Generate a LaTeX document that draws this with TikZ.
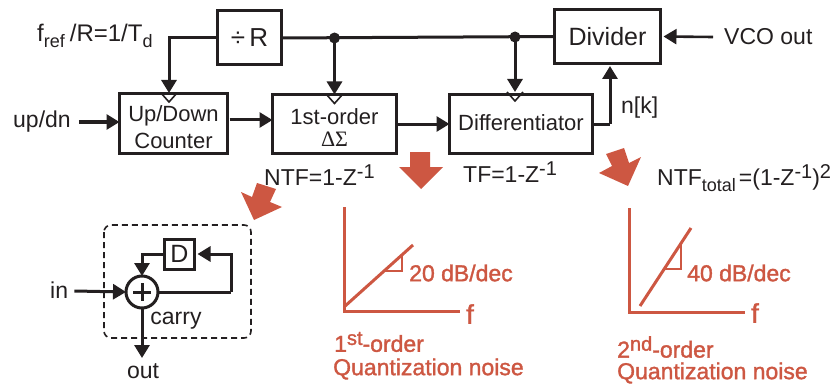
\documentclass[tikz,border=0pt]{standalone}
\usepackage{fontspec}
\usetikzlibrary{arrows.meta,positioning,calc}
\setmainfont{Liberation Sans}
\newfontfamily\deltafont{Liberation Serif}
\newfontfamily\noisefont[FakeBold=1.5]{Liberation Sans}
\definecolor{blockblack}{RGB}{35, 31, 32}
\definecolor{noisered}{RGB}{205, 87, 66}
\newcommand{\lowtxt}[1]{\raisebox{-0.28em}{\fontsize{18}{18}\selectfont #1}}
\newcommand{\hightxt}[1]{\raisebox{0.3em}{\fontsize{20}{20}\selectfont #1}}
\newcommand{\droptxt}[2]{\raisebox{-#1}[0pt][0pt]{#2}}
\tikzset{
 blockbox/.style={
 rectangle,
 draw=blockblack,
 line width=3pt,
 outer sep=0pt,
 align=center,
 text=blockblack,
 font=\fontsize{22}{25}\selectfont
 },
 labeltext/.style={
 inner sep=0pt,
 text=blockblack,
 font=\fontsize{23}{25}\selectfont
 },
 noisetext/.style={
 inner sep=0pt,
 text=noisered,
 font=\fontsize{23}{25}\selectfont\noisefont
 },
 sigline/.style={-{Triangle[length=13pt,width=15pt]}, line width=3pt, draw=blockblack},
 plainline/.style={line width=3pt, draw=blockblack},
 clockmark/.style={line width=1.6pt, draw=blockblack},
 noiseline/.style={line width=3pt, draw=noisered},
 slopeline/.style={line width=2.2pt, draw=noisered},
 bigarrow/.style={fill=noisered, draw=none}
}
\begin{document}
\begin{tikzpicture}[x=1pt,y=-1pt]
	\useasboundingbox (0,0) rectangle (837,385);

	% top row
	\node[blockbox, font=\fontsize{26}{28}\selectfont, minimum width=64pt, minimum height=54pt] (divr) at (249.5,38) {÷\,R};
	\node[blockbox, font=\fontsize{25}{28}\selectfont, minimum width=106pt, minimum height=54pt] (divider) at (607.5,36.5) {Divider};

	% main row
	\node[blockbox, minimum width=108pt, minimum height=59pt, inner sep=0pt] (counter) at (173.5,123.5) {\droptxt{11pt}{Up/Down}\\[2pt]\droptxt{11pt}{Counter}};
	\node[blockbox, minimum width=124pt, minimum height=59pt, inner sep=0pt, right=45pt of counter, yshift=-0.5pt] (sigma) {\droptxt{12pt}{1st-order}\\[-3pt]\droptxt{12pt}{\deltafont ΔΣ}};
	\node[blockbox, minimum width=143pt, minimum height=59pt, inner sep=0pt, right=53pt of sigma] (diff) {\raisebox{2.5pt}{Differentiator}};

	% junctions
	\coordinate (jleft) at (sigma.north |- divr.east);
	\coordinate (jright) at (515,37);
	\fill[blockblack] (jleft) circle (5.5pt);
	\fill[blockblack] (jright) circle (5.5pt);

	% clock lines
	\coordinate (ckcount) at (169,93);
	\coordinate (ckdiff) at (515,92);
	\draw[plainline] (divr.east) -- (divider.west);
	\draw[sigline] (divr.west) -| (ckcount);
	\draw[sigline] (jleft) -- (sigma.north);
	\draw[sigline] (jright) -- (ckdiff);
	\draw[clockmark] ($(ckcount)+(-8,0)$) -- +(8,9) -- +(16,0);
	\draw[clockmark] ($(sigma.north)+(-8,0)$) -- +(8,9) -- +(16,0);
	\draw[clockmark] ($(ckdiff)+(-8,0)$) -- +(8,9) -- +(16,0);

	% signal path
	\node[labeltext, anchor=west] (updn) at (13,122) {up/dn};
	\node[labeltext, anchor=west] (vco) at (724,37) {VCO out};
	\node[labeltext, anchor=west] (nk) at (621,108) {n[k]};
	\coordinate (nkup) at (610,66);
	\draw[sigline] (updn.east) ++(8,0) -- (counter.west |- updn.east);
	\draw[sigline] ([xshift=2pt]counter.east |- 0,120) -- (sigma.west |- 0,120);
	\draw[sigline] (sigma.east) -- (diff.west);
	\draw[plainline] (diff.east) -- (nkup |- diff.east);
	\draw[sigline] (nkup |- diff.east) -- (nkup);
	\draw[{Triangle[length=13pt,width=15pt]}-, line width=2.6pt, draw=blockblack] ([xshift=3pt]divider.east) -- ([xshift=-11pt]vco.west);

	% labels
	\node[labeltext, font=\fontsize{24}{25}\selectfont, anchor=west] (fref) at (37,36) {f\lowtxt{ref}\hspace{5pt}/R=1/T\lowtxt{d}};
	\node[labeltext, anchor=west] (ntf) at (264,175) {NTF=1-Z\hightxt{-1}};
	\node[labeltext, anchor=west] (tf) at (463,172) {TF=1-Z\hightxt{-1}};
	\node[labeltext, anchor=west] (ntftotal) at (657,178) {NTF\lowtxt{total}\hspace{3pt}=(1-Z\hightxt{-1})\hightxt{2}};

	% red arrows
	\path[bigarrow] (257,183) -- (276,189) -- (270,202) -- (282,207) -- (254,220) -- (241,192) -- (252,197) -- cycle;
	\path[bigarrow] (410,152) -- (430,152) -- (430,167) -- (443,167) -- (421,189) -- (399,167) -- (410,167) -- cycle;
	\path[bigarrow] (606,154) -- (624,148) -- (629,163) -- (641,157) -- (628,186) -- (599,173) -- (612,166) -- cycle;

	% carry adder
	\draw[blockblack, line width=1.6pt, rounded corners=7pt, dash pattern=on 6pt off 4pt] (104,225) rectangle (251,338);
	\node[blockbox, font=\fontsize{25}{28}\selectfont, minimum width=30pt, minimum height=30pt, inner sep=0pt] (dly) at (179.5,254) {D};
	\node[circle, draw=blockblack, line width=3pt, minimum size=32pt, inner sep=0pt, outer sep=0pt] (adder) at (142,292) {};
	\draw[line width=3pt, draw=blockblack] (adder.center) +(-9,0) -- +(9,0) (adder.center) +(0,-9) -- +(0,9);
	\node[labeltext, anchor=west] (inlab) at (50,290) {in};
	\node[labeltext] (carry) at (176,321) {carry};
	\node[labeltext] (outlab) at (143,371) {out};
	\coordinate (outend) at (142,358);
	\coordinate (backup) at (231,292);
	\draw[sigline] (inlab.east) ++(6,1) -- (adder.west);
	\draw[sigline] (dly.west) -| (adder.north);
	\draw[plainline] (adder.east) -- (backup);
	\draw[sigline] (backup) |- ([xshift=3pt]dly.east);
	\draw[sigline] (adder.south) -- (outend);

	% first plot
	\coordinate (oa) at (344,311);
	\draw[noiseline] (344,207) -- (oa) -- (460,311);
	\draw[noiseline] (344,307) -- (413,245);
	\draw[slopeline] (385,271) -- (402,271) -- (402,256);
	\node[noisetext, anchor=west] (slopea) at (409,273) {20 dB/dec};
	\node[noisetext, font=\fontsize{27}{28}\selectfont\noisefont] (fa) at (470,314) {f};
	\node[noisetext, anchor=west] (orda) at (334,342) {1\hightxt{st}-order};
	\node[noisetext, anchor=west] (quana) at (333,369) {Quantization noise};

	% second plot
	\coordinate (ob) at (629,312);
	\draw[noiseline] (629,208) -- (ob) -- (745,312);
	\draw[noiseline] (640,306) -- (691,228);
	\draw[slopeline] (664,269) -- (681,269) -- (681,245);
	\node[noisetext, anchor=west] (slopeb) at (687,273) {40 dB/dec};
	\node[noisetext, font=\fontsize{27}{28}\selectfont\noisefont] (fb) at (755,313) {f};
	\node[noisetext, anchor=west] (ordb) at (617,347) {2\hightxt{nd}-order};
	\node[noisetext, anchor=west] (quanb) at (617,373) {Quantization noise};
\end{tikzpicture}
\end{document}
